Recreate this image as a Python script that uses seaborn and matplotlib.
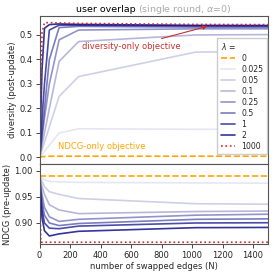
import numpy as np
import pandas as pd
import matplotlib
matplotlib.use("Agg")
import matplotlib.pyplot as plt
import seaborn as sns

# number of swapped edges
n_edges = [0, 8, 16, 32, 64, 128, 256, 1024, 2048]
lambdas = ["0", "0.025", "0.05", "0.1", "0.25", "0.5", "1", "2", "1000"]

# diversity (post-update), one list per lambda
div_0 = [0.0, 0.002, 0.003, 0.004, 0.005, 0.005, 0.005, 0.005, 0.005]
div_0025 = [0.0, 0.006, 0.012, 0.025, 0.05, 0.10, 0.117, 0.115, 0.114]
div_005 = [0.0, 0.016, 0.031, 0.062, 0.125, 0.249, 0.33, 0.43, 0.435]
div_01 = [0.0, 0.025, 0.05, 0.10, 0.20, 0.392, 0.473, 0.50, 0.503]
div_025 = [0.0, 0.04, 0.08, 0.16, 0.30, 0.48, 0.52, 0.525, 0.525]
div_05 = [0.0, 0.05, 0.10, 0.20, 0.40, 0.53, 0.535, 0.532, 0.531]
div_1 = [0.0, 0.08, 0.16, 0.30, 0.52, 0.54, 0.54, 0.537, 0.536]
div_2 = [0.0, 0.18, 0.36, 0.527, 0.542, 0.545, 0.543, 0.539, 0.538]
div_1000 = [0.0, 0.30, 0.51, 0.55, 0.55, 0.549, 0.547, 0.543, 0.541]

# NDCG (pre-update), one list per lambda
ndcg_0 = [0.99, 0.99, 0.99, 0.99, 0.99, 0.99, 0.99, 0.99, 0.99]
ndcg_0025 = [0.99, 0.988, 0.986, 0.983, 0.980, 0.979, 0.978, 0.977, 0.976]
ndcg_005 = [0.99, 0.985, 0.98, 0.97, 0.96, 0.955, 0.947, 0.937, 0.935]
ndcg_01 = [0.99, 0.98, 0.97, 0.955, 0.935, 0.925, 0.918, 0.922, 0.924]
ndcg_025 = [0.99, 0.97, 0.955, 0.93, 0.912, 0.903, 0.907, 0.915, 0.919]
ndcg_05 = [0.99, 0.96, 0.94, 0.915, 0.90, 0.895, 0.899, 0.907, 0.909]
ndcg_1 = [0.99, 0.95, 0.925, 0.90, 0.89, 0.889, 0.894, 0.90, 0.901]
ndcg_2 = [0.99, 0.94, 0.91, 0.885, 0.875, 0.879, 0.884, 0.891, 0.892]
ndcg_1000 = [0.99, 0.863, 0.863, 0.863, 0.863, 0.863, 0.863, 0.863, 0.863]

div_all = [div_0, div_0025, div_005, div_01, div_025, div_05, div_1, div_2, div_1000]
ndcg_all = [ndcg_0, ndcg_0025, ndcg_005, ndcg_01, ndcg_025, ndcg_05, ndcg_1, ndcg_2, ndcg_1000]

# line styles per lambda
blue_alpha = [0.1, 0.2, 0.3, 0.45, 0.55, 0.75, 0.85]
styles = [dict(color="orange", linestyle="--", alpha=1.0)]
for a in blue_alpha:
    styles.append(dict(color="#10108c", linestyle="-", alpha=a))
styles.append(dict(color="tab:red", linestyle=":", alpha=1.0))

sns.set_style("ticks")
plt.rcParams["font.family"] = ["DejaVu Sans"]
plt.rcParams["font.size"] = 6

fig = plt.figure(figsize=(2.74, 2.75), dpi=100)
gs = fig.add_gridspec(2, 1, height_ratios=[148, 80], hspace=0,
                      left=0.1445, right=0.979, top=0.942, bottom=0.1116)
ax1 = fig.add_subplot(gs[0])
ax2 = fig.add_subplot(gs[1], sharex=ax1)

for lam, dv, nd, st in zip(lambdas, div_all, ndcg_all, styles):
    sns.lineplot(x=n_edges, y=dv, ax=ax1, label=lam, linewidth=1.2, **st)
    sns.lineplot(x=n_edges, y=nd, ax=ax2, linewidth=1.2, **st)

ax1.set_xlim(0, 1500)
ax1.set_ylim(-0.0275, 0.5775)
ax2.set_ylim(0.859, 1.013)
ax1.set_yticks([0.0, 0.1, 0.2, 0.3, 0.4, 0.5])
ax2.set_yticks([0.90, 0.95, 1.00])
ax2.set_xticks([0, 200, 400, 600, 800, 1000, 1200, 1400])
ax1.tick_params(axis="x", bottom=False, labelbottom=False)
for ax in (ax1, ax2):
    ax.tick_params(labelsize=6, length=3, width=0.6, pad=2)
    for sp in ax.spines.values():
        sp.set_color("#555555")

ax1.set_ylabel("diversity (post-update)", fontsize=6, labelpad=2)
ax2.set_ylabel("NDCG (pre-update)", fontsize=6, labelpad=1.5)
ax2.set_xlabel("number of swapped edges (N)", fontsize=6, labelpad=1)

ax1.annotate("diversity-only objective", xy=(1100, 0.535), xytext=(600, 0.452),
             ha="center", va="center", color="#c8302c", fontsize=6,
             arrowprops=dict(arrowstyle="-|>", color="#c8302c", lw=0.8,
                             shrinkA=1, shrinkB=0))
ax1.text(120, 0.043, "NDCG-only objective", color="orange", fontsize=6,
         ha="left", va="center")

leg = ax1.legend(title=r"$\lambda$ =", loc="lower right", bbox_to_anchor=(0.993, 0.07),
                 borderaxespad=0, fontsize=5.6, title_fontsize=5.6,
                 handlelength=1.9, labelspacing=0.25, alignment="left",
                 fancybox=False, framealpha=1.0, edgecolor="#cccccc")

# two-coloured title
fig.canvas.draw()
r = fig.canvas.get_renderer()
t1 = fig.text(0, 0, "user overlap ", fontsize=6.8, color="black")
t2 = fig.text(0, 0, "(single round, $\\alpha$=0)", fontsize=6.8, color="#aaaaaa")
w1 = t1.get_window_extent(r).width
w2 = t2.get_window_extent(r).width
pos = ax1.get_position()
cx = (pos.x0 + pos.x1) / 2 * fig.bbox.width
x0 = cx - (w1 + w2) / 2
ty = pos.y1 + 4 / fig.bbox.height
t1.set_position((x0 / fig.bbox.width, ty))
t2.set_position(((x0 + w1) / fig.bbox.width, ty))

fig.savefig("out.png", dpi=100)
